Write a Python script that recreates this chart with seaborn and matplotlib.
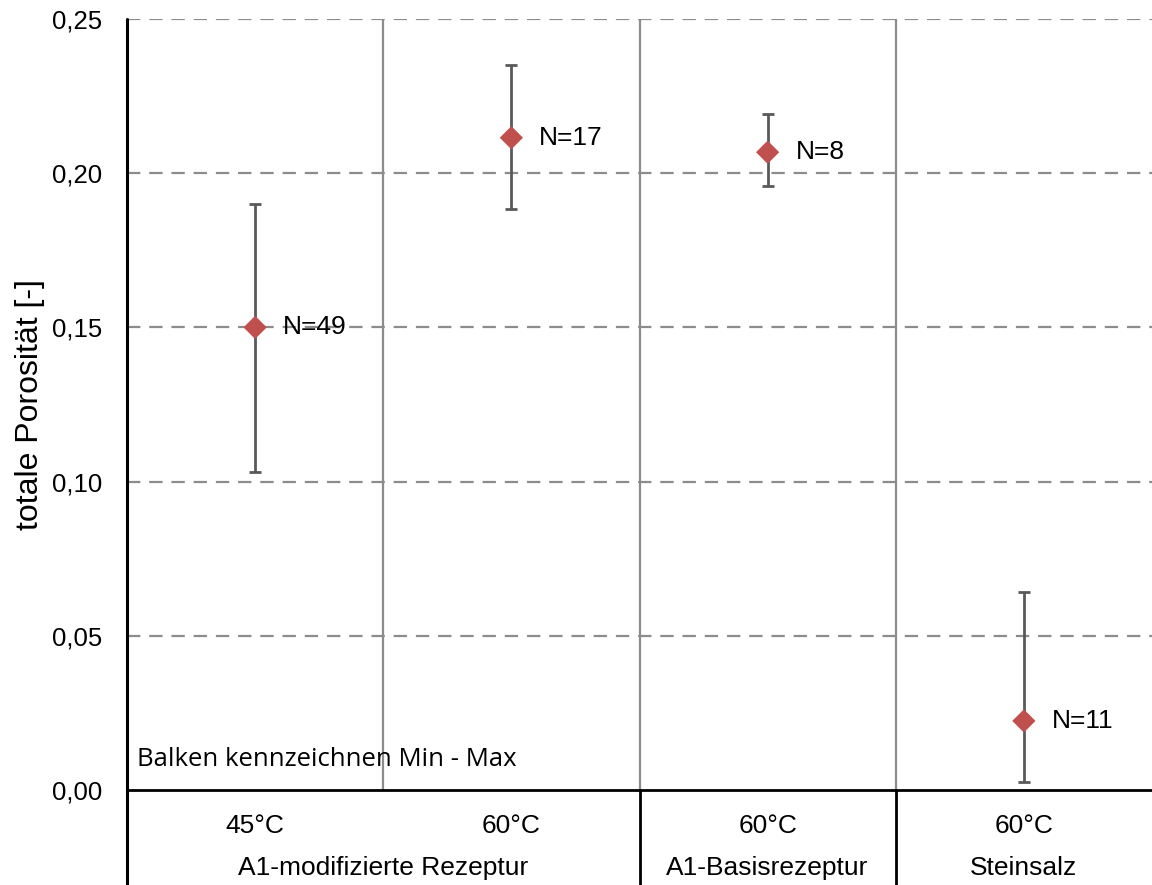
# Porosity chart - min/max bars per recipe

import matplotlib
matplotlib.use("Agg")

import numpy as np
import pandas as pd
import matplotlib.pyplot as plt
import seaborn as sns
from matplotlib.ticker import FuncFormatter
from matplotlib.transforms import blended_transform_factory

# Data
temps = ["45°C", "60°C", "60°C", "60°C"]
groups = ["A1-modifizierte Rezeptur", "A1-Basisrezeptur", "Steinsalz"]
group_centers = [0.5, 2.0, 3.0]
mean_por = [0.150, 0.2115, 0.2068, 0.0224]
min_por = [0.103, 0.1884, 0.1958, 0.0026]
max_por = [0.190, 0.2351, 0.2192, 0.0643]
n_samples = [49, 17, 8, 11]

df = pd.DataFrame({"pos": np.arange(len(temps)), "mean": mean_por,
                   "min": min_por, "max": max_por, "n": n_samples})

sns.set_style("white")
plt.rcParams["font.family"] = ["Liberation Sans", "DejaVu Sans"]
plt.rcParams["text.color"] = "black"
plt.rcParams["axes.labelcolor"] = "black"

fig = plt.figure(figsize=(11.52, 8.85), dpi=100)
ax = fig.add_axes([127 / 1152, 95 / 885, 1025 / 1152, 771 / 885])

# dashed grid
for v in np.arange(0.05, 0.2501, 0.05):
    ax.axhline(v, color="#8c8c8c", linestyle=(0, (6, 4)), linewidth=1.6, zorder=0)

# group separators
for sx in [0.5, 1.5, 2.5]:
    ax.axvline(sx, color="#8c8c8c", linewidth=1.6, zorder=0)

# min-max bars
ax.errorbar(df["pos"], df["mean"],
            yerr=[df["mean"] - df["min"], df["max"] - df["mean"]],
            fmt="none", ecolor="#595959", elinewidth=2, capsize=4.5, capthick=2, zorder=2)

sns.scatterplot(data=df, x="pos", y="mean", marker="D", s=140, color="#c0504d",
                edgecolor="none", ax=ax, zorder=3, legend=False)

for _, r in df.iterrows():
    ax.annotate(f"N={int(r['n'])}", (r["pos"], r["mean"]), xytext=(20, 0),
                textcoords="offset points", va="center", ha="left", fontsize=19)

ax.set_xlim(-0.5, 3.5)
ax.set_ylim(0, 0.25)
ax.set_yticks(np.arange(0, 0.2501, 0.05))
ax.yaxis.set_major_formatter(FuncFormatter(lambda v, p: f"{v:.2f}".replace(".", ",")))
ax.tick_params(axis="y", length=0, pad=18, labelsize=18.5, labelcolor="black")
ax.set_xticks(df["pos"])
ax.set_xticklabels(temps)
ax.tick_params(axis="x", length=0, pad=17, labelsize=19, labelcolor="black")
ax.set_xlabel("")
ax.set_ylabel("totale Porosität [-]", fontsize=23, labelpad=5)

for s in ["top", "right"]:
    ax.spines[s].set_visible(False)
ax.spines["left"].set_visible(False)
ax.spines["bottom"].set_color("black")
ax.spines["bottom"].set_linewidth(2)

# table lines under the axis
below = -95 / 771
trans = blended_transform_factory(ax.transData, ax.transAxes)
ax.plot([-0.5, -0.5], [below, 1], color="black", linewidth=2.2, transform=trans, clip_on=False)
for sx in [1.5, 2.5]:
    ax.plot([sx, sx], [below, 0], color="black", linewidth=2, transform=trans, clip_on=False)

for gx, g in zip(group_centers, groups):
    ax.text(gx, -78 / 771, g, transform=trans, ha="center", va="center", fontsize=19)

ax.text(-0.46, 30 / 771, "Balken kennzeichnen Min - Max", transform=trans,
        ha="left", va="center", fontsize=18.5, family=["Open Sans", "DejaVu Sans"])

fig.savefig("out.png", dpi=100)
plt.close(fig)
